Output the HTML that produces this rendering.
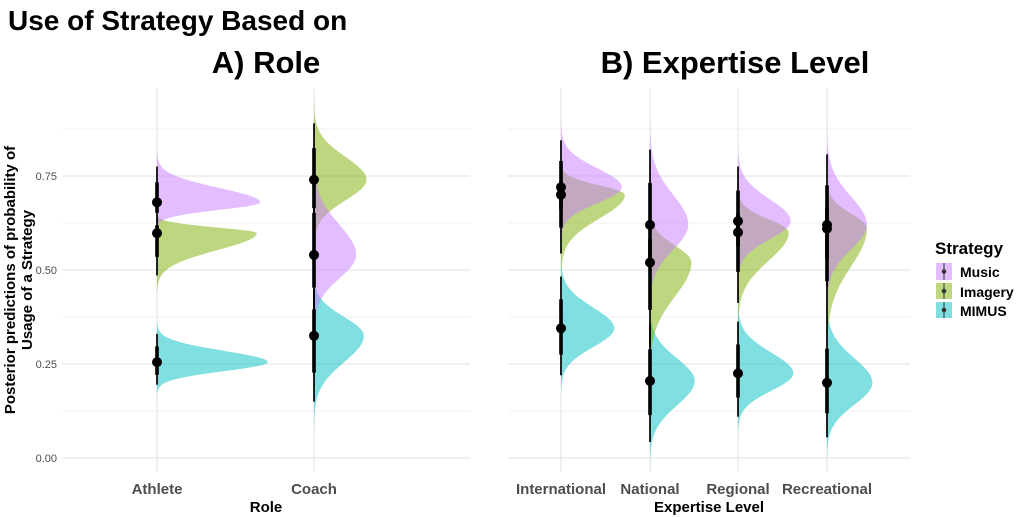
<!DOCTYPE html>
<html><head><meta charset="utf-8"><style>
html,body{margin:0;padding:0;background:#fff}
svg{display:block;font-family:"Liberation Sans",sans-serif}
</style></head><body>
<svg id="chart" width="1022" height="517" viewBox="0 0 1022 517">
<text x="8" y="30" font-size="28" font-weight="bold" fill="#000">Use of Strategy Based on</text>
<text x="266" y="73" font-size="31" font-weight="bold" text-anchor="middle">A) Role</text>
<text x="735" y="73" font-size="31" font-weight="bold" text-anchor="middle">B) Expertise Level</text>
<g font-size="15" font-weight="bold" text-anchor="middle">
<text transform="translate(15,280) rotate(-90)">Posterior predictions of probability of</text>
<text transform="translate(32,280) rotate(-90)">Usage of a Strategy</text>
</g>
<g id="grid"></g>
<g id="marks"></g>
<g id="axes"></g>
<g>
<text x="935" y="254" font-size="17" font-weight="bold">Strategy</text>
<g>
<rect x="936" y="263" width="16" height="17" fill="#C77CFF" fill-opacity="0.5"/><line x1="944" y1="263" x2="944" y2="280" stroke="#333" stroke-width="1"/><circle cx="944" cy="271.5" r="2.3" fill="#333"/>
<text x="960" y="277" font-size="14" font-weight="bold">Music</text></g>
<g>
<rect x="936" y="283" width="16" height="16" fill="#7CAE00" fill-opacity="0.5"/><line x1="944" y1="283" x2="944" y2="299" stroke="#333" stroke-width="1"/><circle cx="944" cy="291" r="2.3" fill="#333"/>
<text x="960" y="297" font-size="14" font-weight="bold">Imagery</text></g>
<g>
<rect x="936" y="302" width="16" height="16" fill="#00BFC4" fill-opacity="0.5"/><line x1="944" y1="302" x2="944" y2="318" stroke="#333" stroke-width="1"/><circle cx="944" cy="310" r="2.3" fill="#333"/>
<text x="960" y="316" font-size="14" font-weight="bold">MIMUS</text></g>
</g>
</svg>
<script>
const strategies = ["Music","Imagery","MIMUS"];
const yTicks = [0, 0.25, 0.5, 0.75];
const yTickLabels = ["0.00","0.25","0.50","0.75"];
const yMinor = [0.125, 0.375, 0.625, 0.875];
// Panel A: Role
const roleCats = ["Athlete","Coach"];
const roleMode = [[0.68,0.598,0.255],[0.54,0.74,0.325]];
const roleSdLow = [[0.02,0.045,0.024],[0.062,0.054,0.07]];
const roleSdHigh = [[0.038,0.015,0.03],[0.08,0.06,0.05]];
// Panel B: Expertise
const expCats = ["International","National","Regional","Recreational"];
const expMode = [[0.72,0.70,0.345],[0.62,0.52,0.205],[0.63,0.60,0.225],[0.62,0.61,0.20]];
const expSdLow = [[0.042,0.0625,0.05],[0.066,0.09,0.065],[0.048,0.075,0.046],[0.065,0.1,0.058]];
const expSdHigh = [[0.05,0.025,0.055],[0.08,0.045,0.06],[0.058,0.035,0.055],[0.075,0.04,0.065]];

const colors = ["#C77CFF","#7CAE00","#00BFC4"];
const drawOrder = [2,1,0];
const NS = "http://www.w3.org/2000/svg";
const yScale = v => 458 - v*376;
function mk(tag, attrs, parent){const e=document.createElementNS(NS,tag);for(const k in attrs)e.setAttribute(k,attrs[k]);parent.appendChild(e);return e;}
const grid=document.getElementById('grid'), marks=document.getElementById('marks'), axes=document.getElementById('axes');

const panels = [
 {name:"role", cats:roleCats, mode:roleMode, lo:roleSdLow, hi:roleSdHigh, x0:62, x1:470, xs:[157,314], K:7.5, title:"Role"},
 {name:"expertise", cats:expCats, mode:expMode, lo:expSdLow, hi:expSdHigh, x0:508, x1:910, xs:[561,650,738,827], K:7, title:"Expertise Level"}
];
panels.forEach(p=>{
  yMinor.forEach(v=>{const l=mk('line',{x1:p.x0,x2:p.x1,y1:yScale(v),y2:yScale(v),stroke:'#f2f2f2','stroke-width':1},grid);
    
    });
  yTicks.forEach((v,i)=>{const l=mk('line',{x1:p.x0,x2:p.x1,y1:yScale(v),y2:yScale(v),stroke:'#e6e6e6','stroke-width':1.2},grid);
    
    
    if(p.name==="role"){const t=mk('text',{x:57,y:yScale(v)+4,'font-size':11,fill:'#4d4d4d','text-anchor':'end'},axes);t.textContent=yTickLabels[i];
      
      }
  });
  p.cats.forEach((c,ci)=>{
    const cx=p.xs[ci];
    const vl=mk('line',{x1:cx,x2:cx,y1:88,y2:472,stroke:'#e6e6e6','stroke-width':1.2},grid);
    
    
    const t=mk('text',{x:cx,y:494,'font-size':15,'font-weight':'bold',fill:'#4d4d4d','text-anchor':'middle'},axes);t.textContent=c;
    
    
    drawOrder.forEach(si=>{
      const s=strategies[si];
      const m=p.mode[ci][si], a=p.lo[ci][si], b=p.hi[ci][si];
      const peak=2/(Math.sqrt(2*Math.PI)*(a+b));
      let d=`M${cx},${yScale(m-3.5*a)}`;
      for(let k=0;k<=80;k++){const v=m-3.5*a+(3.5*a+3.5*b)*k/80;const sd=v<m?a:b;
        const dens=peak*Math.exp(-0.5*((v-m)/sd)**2);
        d+=` L${(cx+p.K*dens).toFixed(2)},${yScale(v).toFixed(2)}`;}
      d+=` L${cx},${yScale(m+3.5*b)} Z`;
      const path=mk('path',{d:d,fill:colors[si],'fill-opacity':0.5},marks);
      
      
    });
  });
  p.cats.forEach((c,ci)=>{
    const cx=p.xs[ci];
    strategies.forEach((s,si)=>{
      const m=p.mode[ci][si], a=p.lo[ci][si], b=p.hi[ci][si];
      const thin=mk('line',{x1:cx,x2:cx,y1:yScale(m-2.5*a),y2:yScale(m+2.5*b),stroke:'#000','stroke-width':2,'stroke-opacity':0.85},marks);
      
      
      const thick=mk('line',{x1:cx,x2:cx,y1:yScale(m-1.4*a),y2:yScale(m+1.4*b),stroke:'#000','stroke-width':3.8,'stroke-opacity':0.9},marks);
      
      
      const pt=mk('circle',{cx:cx,cy:yScale(m),r:5,fill:'#000'},marks);
      
      
    });
  });
  const at=mk('text',{x:(p.x0+p.x1)/2,y:512,'font-size':15,'font-weight':'bold','text-anchor':'middle'},axes);
  at.textContent=p.title;
  
  
});
</script>
</body></html>
